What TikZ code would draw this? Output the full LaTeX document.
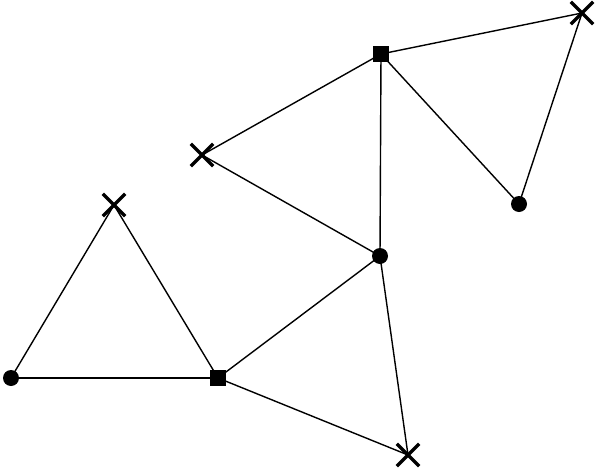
\documentclass[tikz,border=0pt]{standalone}
\usepackage{tkz-euclide}
\usetikzlibrary{shapes.misc}
\tikzset{
  DotMark/.style={circle,fill=black,inner sep=0pt,minimum size=16pt},
  BoxMark/.style={rectangle,fill=black,inner sep=0pt,minimum size=15.5pt},
  CrossMark/.style={cross out,draw=black,line width=3.4pt,inner sep=0pt,minimum size=19pt}
}

\begin{document}
\begin{tikzpicture}[x=1pt,y=-1pt]
\useasboundingbox (0,0) rectangle (598,469);
\tkzSetUpLine[line width=1.4pt,color=black]

\tkzDefPoints{11/378/A,218/378/B,114/205/C,380/256/D,408/455/E,202/155/F,381/54/G,582/13/H,519/204/K}

\tkzDrawSegments(A,B A,C B,C B,D B,E D,E)
\tkzDrawSegments(D,F D,G F,G G,H G,K H,K)

\node[DotMark] (mA) at (A) {};
\node[BoxMark] (mB) at (B) {};
\node[CrossMark] (mC) at (C) {};
\node[DotMark] (mD) at (D) {};
\node[CrossMark] (mE) at (E) {};
\node[CrossMark] (mF) at (F) {};
\node[BoxMark] (mG) at (G) {};
\node[CrossMark] (mH) at (H) {};
\node[DotMark] (mK) at (K) {};

\end{tikzpicture}
\end{document}
